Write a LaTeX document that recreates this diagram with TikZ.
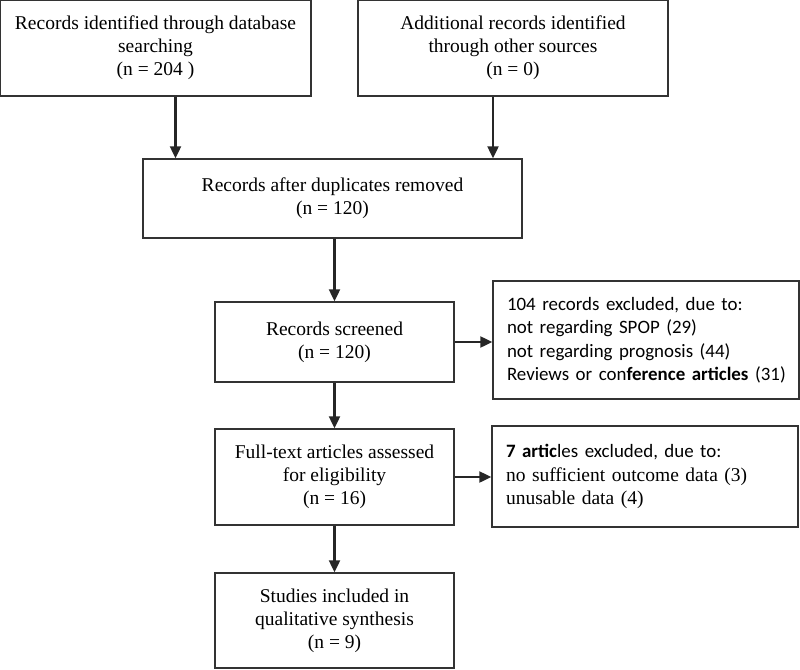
\documentclass[tikz,border=0pt]{standalone}
\usepackage{fontspec}
\setmainfont{Liberation Serif}
\newfontfamily\calib[Scale=0.97]{Carlito}
\usepackage{tikz}
\usetikzlibrary{arrows.meta}

\begin{document}
\begin{tikzpicture}[x=1pt,y=-1pt,
  box/.style={draw=black!80,line width=1.4pt,rectangle,inner sep=0pt,align=center,font=\fontsize{19.5}{23}\selectfont},
  side/.style={draw=black!80,line width=1.4pt,rectangle,inner xsep=14pt,inner ysep=0pt,align=left,text width=278pt,font=\fontsize{19.5}{23.5}\selectfont},
  arr/.style={-{Triangle[width=11pt,length=12pt]},line width=2.2pt,black!85}]
\useasboundingbox (0,0) rectangle (800,669);
\node[box,minimum width=311pt,minimum height=96pt] (ident) at (155.5,48) {Records identified through database\\searching\\(n = 204 )};
\node[box,minimum width=310pt,minimum height=96pt] (other) at (513,48) {Additional records identified\\through other sources\\(n = 0)};
\node[box,minimum width=379pt,minimum height=79pt] (dedup) at (332.5,198.5) {Records after duplicates removed\\(n = 120)};
\node[box,minimum width=239pt,minimum height=80pt] (screen) at (334.5,342) {Records screened\\(n = 120)};
\node[side,minimum height=118pt] (excla) at (646,340) {\calib 104 records excluded, due to:\\\calib not regarding SPOP (29)\\\calib not regarding prognosis (44)\\\mbox{\calib Reviews or con\textbf{ference articles} (31)}};
\node[box,minimum width=239pt,minimum height=96pt] (full) at (334.5,477) {Full-text articles assessed\\for eligibility\\(n = 16)};
\node[side,minimum height=101pt] (exclb) at (645,476.5) {{\calib\textbf{7 artic}les excluded, due to:}\\no sufficient outcome data (3)\\unusable data (4)};
\node[box,minimum width=239pt,minimum height=95pt] (incl) at (334.5,620.5) {Studies included in\\qualitative synthesis\\(n = 9)};
% arrows
\draw[arr] ([xshift=20pt]ident.south) -- ([xshift=20pt]ident.south |- dedup.north);
\draw[arr] ([xshift=-20pt]other.south) -- ([xshift=-20pt]other.south |- dedup.north);
\draw[arr] (screen.north |- dedup.south) -- (screen.north);
\draw[arr] (screen.east) -- (screen.east -| excla.west);
\draw[arr] (screen.south) -- (full.north);
\draw[arr] (full.east) -- (full.east -| exclb.west);
\draw[arr] (full.south) -- (incl.north);
\end{tikzpicture}
\end{document}
